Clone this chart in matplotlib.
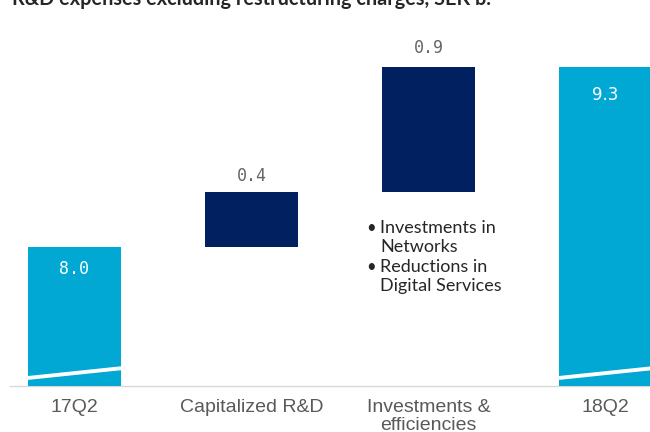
import matplotlib
matplotlib.use("Agg")
import matplotlib.pyplot as plt

categories = ["17Q2", "Capitalized R&D", "Investments &\nefficiencies", "18Q2"]
values = [8.0, 0.4, 0.9, 9.3]
kinds = ["total", "delta", "delta", "total"]
labels = ["8.0", "0.4", "0.9", "9.3"]
note_lines = [("\u2022", "Investments in"), ("", "Networks"),
              ("\u2022", "Reductions in"), ("", "Digital Services")]
title = "R&D expenses excluding restructuring charges, SEK b."

LIGHT = "#00A8D3"
NAVY = "#002060"

label_offsets = [-9, 5, 7, -14]
label_fonts = ["DejaVu Sans Mono", "DejaVu Sans Mono", "DejaVu Sans Mono", "DejaVu Sans"]

fig = plt.figure(figsize=(6.5, 4.32), dpi=100)
ax = fig.add_axes([0, 1 - 386 / 432, 1, 386 / 432])
ax.set_xlim(-74.5 / 177, (650 - 74.5) / 177)
ax.set_ylim(7.0, 9.3 + 67 / 138.7)
ax.axis("off")

width = 93 / 177
running = 0.0
for i, (v, k, lab) in enumerate(zip(values, kinds, labels)):
    if k == "total":
        bottom, height, col = 0.0, v, LIGHT
        running = v
    else:
        bottom, height, col = running, v, NAVY
        running += v
    ax.bar(i, height, bottom=bottom, width=width, color=col, linewidth=0, zorder=2)
    top = bottom + height
    if k == "total":
        ax.annotate(lab, (i, top), xytext=(0, label_offsets[i]), textcoords="offset points",
                    ha="center", va="top", color="white",
                    fontsize=12, family=label_fonts[i], zorder=4)
        # axis-break mark near the bottom of the total bars
        ax.plot([i - width / 2, i + width / 2], [7.058, 7.128], color="white",
                lw=2.8, solid_capstyle="butt", zorder=3, clip_on=True)
    else:
        ax.annotate(lab, (i, top), xytext=(0, label_offsets[i]), textcoords="offset points",
                    ha="center", va="bottom", color="#666666",
                    fontsize=12, family=label_fonts[i], zorder=4)

# baseline
ax.plot([-74.5 / 177 + 10 / 177, (650 - 74.5) / 177], [7.0, 7.0],
        color="#D9D9D9", lw=1, clip_on=False, zorder=1)

# category labels
for i, c in enumerate(categories):
    ax.annotate(c, (i, 7.0), xytext=(0, -9), textcoords="offset points",
                ha="center", va="top", color="#595959", fontsize=14,
                family="Liberation Sans", linespacing=1.1, annotation_clip=False)

# notes
y_first = 228
step = 19.5
for j, (b, t) in enumerate(note_lines):
    yf = 1 - (y_first + j * step) / 432
    if b:
        fig.text(366 / 650, yf, b, ha="left", va="center",
                 fontsize=12, family="Lato", color="#262626")
    fig.text(380 / 650, yf, t, ha="left", va="center",
             fontsize=13, family="Lato", color="#262626")

fig.text(12 / 650, 1 - 5 / 432, title, ha="left", va="baseline",
         fontsize=14.3, fontweight="bold", family="Lato", color="#262626")

fig.savefig("out.png", dpi=100)
